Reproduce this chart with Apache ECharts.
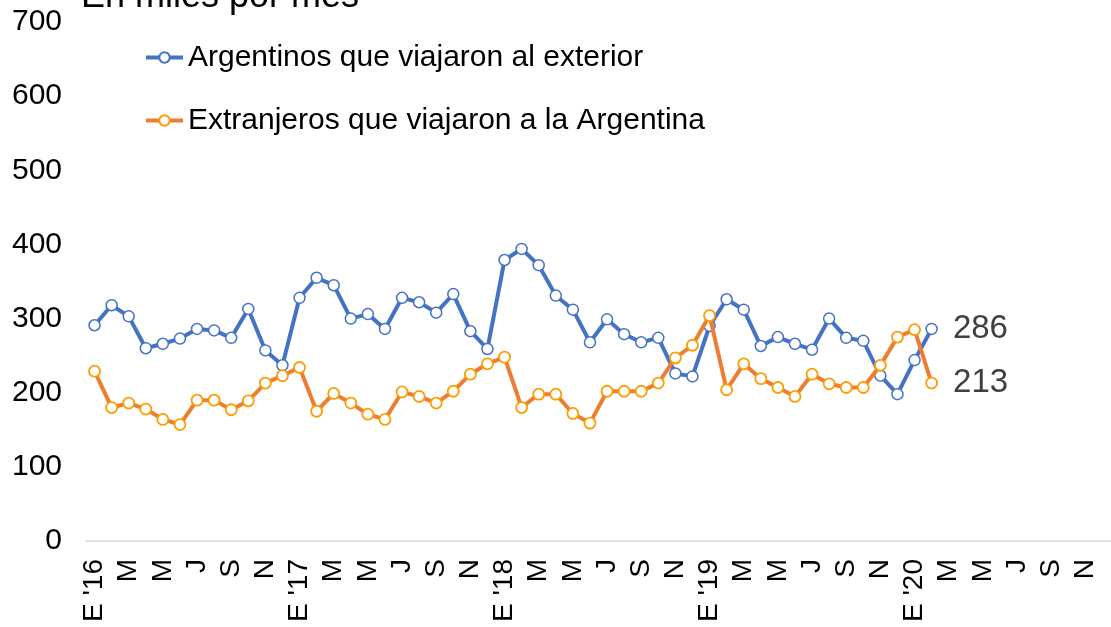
<!DOCTYPE html>
<html>
<head>
<meta charset="utf-8">
<script src="https://cdn.jsdelivr.net/npm/echarts@6/dist/echarts.min.js"></script>
<style>
html,body{margin:0;padding:0;background:#fff;}
#chart{width:1111px;height:627px;}
</style>
</head>
<body>
<div id="chart"></div>
<script>
var monthInitials = ['E','F','M','A','M','J','J','A','S','O','N','D'];
var years = ['16','17','18','19','20'];
var categories = [];
years.forEach(function(y){
  monthInitials.forEach(function(m, i){
    categories.push(i === 0 ? "E '" + y : m);
  });
});

var seriesNames = ['Argentinos que viajaron al exterior', 'Extranjeros que viajaron a la Argentina'];

var argentinos = [291,318,303,260,266,273,286,284,274,313,257,237,
                  328,355,345,300,306,286,328,322,308,333,283,259,
                  379,394,372,331,312,268,299,279,268,274,226,222,
                  290,326,312,263,275,266,258,300,274,270,223,198,
                  244,286];

var extranjeros = [229,180,186,178,164,157,190,190,177,189,213,223,
                   234,175,199,186,171,164,201,195,186,202,225,239,
                   248,180,198,198,172,159,202,202,202,213,247,264,
                   304,204,239,219,207,195,225,212,207,207,237,275,
                   285,213];

var yTicks = {min:0, max:700, interval:100};

var FONT = 'Liberation Sans, Arial, sans-serif';

function withEndLabel(arr){
  return arr.map(function(v, i){
    if (i === arr.length - 1) {
      return {value: v, label: {show: true, position: 'right', distance: 15,
        fontSize: 33, color: '#404040', fontFamily: FONT}};
    }
    return v;
  });
}

var chart = echarts.init(document.getElementById('chart'));
chart.setOption({
  animation: false,
  backgroundColor: '#ffffff',
  textStyle: {fontFamily: FONT},
  title: {
    text: 'En miles por mes',
    left: 76, top: -26,
    textStyle: {fontSize: 36, fontWeight: 'normal', color: '#000', fontFamily: FONT}
  },
  legend: {
    orient: 'vertical',
    left: 144, top: 41, padding: 0,
    itemWidth: 37, itemHeight: 13, itemGap: 30, itemTextGap: 3,
    lineStyle: {width: 4},
    textStyle: {fontSize: 30, color: '#000', lineHeight: 33, fontFamily: FONT},
    data: seriesNames
  },
  grid: {left: 86, width: 1038, top: 22, height: 519, containLabel: false},
  xAxis: {
    type: 'category',
    data: categories,
    boundaryGap: true,
    axisLine: {show: true, lineStyle: {color: '#d9d9d9', width: 1.5}},
    axisTick: {show: false},
    axisLabel: {interval: 1, rotate: 90, margin: 18, fontSize: 28, color: '#000', fontFamily: FONT},
    splitLine: {show: false}
  },
  yAxis: {
    type: 'value',
    min: yTicks.min, max: yTicks.max, interval: yTicks.interval,
    axisLine: {show: false},
    axisTick: {show: false},
    splitLine: {show: false},
    axisLabel: {margin: 24, fontSize: 30, color: '#000', fontFamily: FONT}
  },
  series: [
    {
      name: seriesNames[0],
      type: 'line',
      data: withEndLabel(argentinos),
      symbol: 'circle', symbolSize: 11, showAllSymbol: true,
      lineStyle: {color: '#4472C4', width: 4},
      itemStyle: {color: '#ffffff', borderColor: '#4472C4', borderWidth: 1.5},
      z: 2
    },
    {
      name: seriesNames[1],
      type: 'line',
      data: withEndLabel(extranjeros),
      symbol: 'circle', symbolSize: 11, showAllSymbol: true,
      lineStyle: {color: '#ED7D31', width: 4},
      itemStyle: {color: '#ffffff', borderColor: '#FF9C00', borderWidth: 1.8},
      z: 3
    }
  ]
});
</script>
</body>
</html>
